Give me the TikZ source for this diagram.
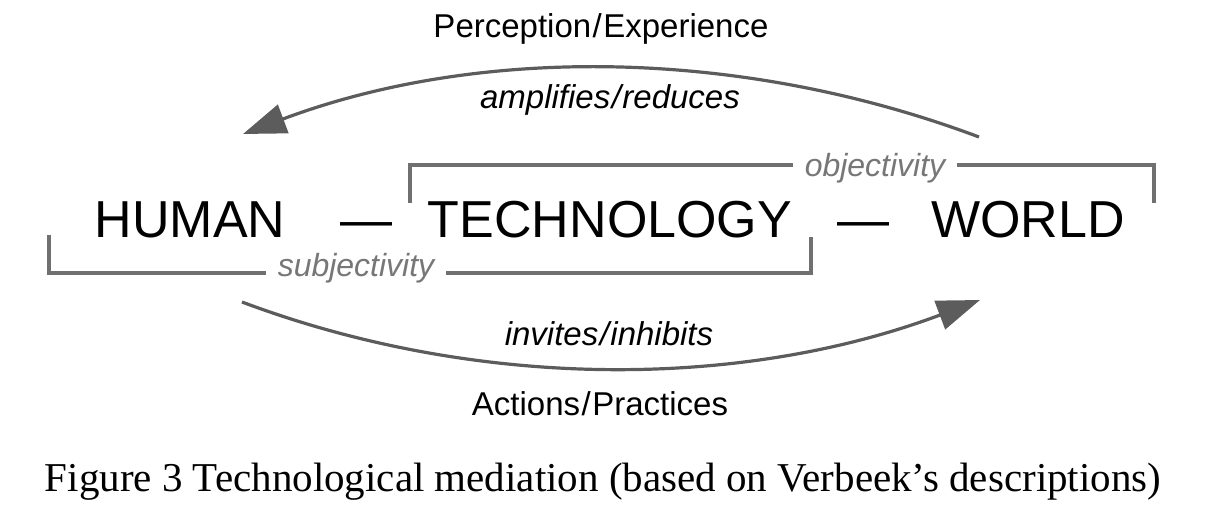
\documentclass[tikz,border=0pt]{standalone}
\usepackage{fontspec}
\setmainfont{Liberation Sans}
\newfontfamily\capfont{Liberation Serif}
\usetikzlibrary{arrows.meta}
\definecolor{arrowgray}{HTML}{5C5C5C}
\definecolor{bracketgray}{HTML}{707070}
\definecolor{labelgray}{HTML}{777777}
\newcommand{\slsh}{\kern1.5pt/\kern1.5pt}
\tikzset{
  bigword/.style={font=\fontsize{52}{60}\selectfont, inner sep=0pt, anchor=base, text=black},
  midword/.style={font=\fontsize{33}{38}\selectfont, inner sep=0pt, anchor=base, text=black},
  slabel/.style={font=\fontsize{33}{38}\selectfont\itshape, inner sep=0pt, anchor=base, text=black},
  glabel/.style={font=\fontsize{32}{38}\selectfont\itshape, text=labelgray, fill=white, inner xsep=12pt, inner ysep=2pt, anchor=base},
  bracketline/.style={draw=bracketgray, line width=3.2pt},
  arcarrow/.style={draw=arrowgray, line width=3.2pt, -{Triangle[length=43pt,width=30pt]}},
  captext/.style={font=\capfont\fontsize{41}{48}\selectfont, inner sep=0pt, anchor=base},
}
\begin{document}
\begin{tikzpicture}[x=1pt,y=-1pt]
\useasboundingbox (0,0) rectangle (1206,524);
% brackets
\draw[bracketline] (410,203) -- (410,165) -- (1154,165) -- (1154,203);
\draw[bracketline] (49,235) -- (49,273) -- (811,273) -- (811,237);
\node[glabel] (obj) at (875,176) {objectivity};
\node[glabel] (subj) at (356,276) {subjectivity};
% main words
\node[bigword] (human) at (190,237) {HUMAN};
\node[bigword] (dash1) at (366,237) {—};
\node[bigword] (tech) at (610,237) {TECHNOLOGY};
\node[bigword] (dash2) at (863,237) {—};
\node[bigword] (world) at (1028,237) {WORLD};
% arcs
\coordinate (topS) at (979,137);
\coordinate (topT) at (243,134);
\coordinate (botS) at (242,302);
\coordinate (botT) at (980,300);
\draw[arcarrow] (topS) .. controls (742,48) and (480,45) .. (topT);
\draw[arcarrow] (botS) .. controls (479,391) and (743,389) .. (botT);
% labels
\node[midword] (perc) at (601,38) {Perception\slsh Experience};
\node[slabel] (ampl) at (610,109) {amplifies\slsh reduces};
\node[slabel] (invi) at (609,345) {invites\slsh inhibits};
\node[midword] (acti) at (600,415) {Actions\slsh Practices};
% caption
\node[captext] (cap) at (603,491) {Figure 3 Technological mediation (based on Verbeek’s descriptions)};
\end{tikzpicture}
\end{document}
